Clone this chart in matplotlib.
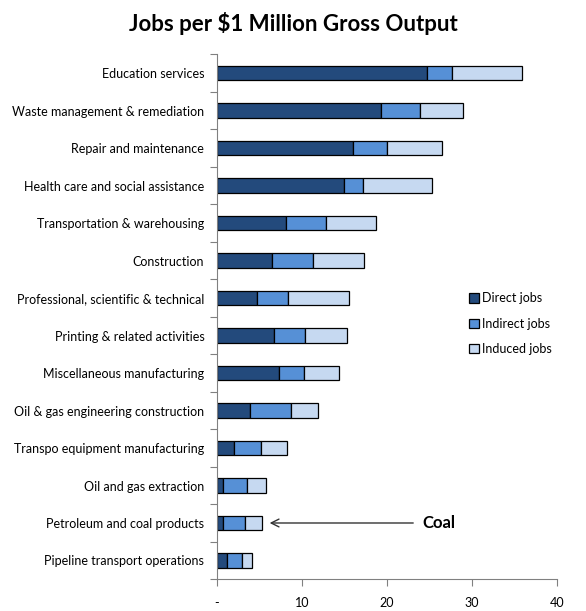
import matplotlib
matplotlib.use("Agg")
import matplotlib.pyplot as plt
import numpy as np

# -------------------------------------------------------
# DATA (jobs per $1M gross output)
# -------------------------------------------------------
industries = [
    "Education services",
    "Waste management & remediation",
    "Repair and maintenance",
    "Health care and social assistance",
    "Transportation & warehousing",
    "Construction",
    "Professional, scientific & technical",
    "Printing & related activities",
    "Miscellaneous manufacturing",
    "Oil & gas engineering construction",
    "Transpo equipment manufacturing",
    "Oil and gas extraction",
    "Petroleum and coal products",
    "Pipeline transport operations",
]
direct_jobs = [24.75, 19.33, 16.04, 14.98, 8.16, 6.51, 4.75, 6.75, 7.33, 3.92, 2.04, 0.75, 0.75, 1.18]
indirect_jobs = [2.90, 4.55, 4.00, 2.20, 4.70, 4.78, 3.60, 3.64, 2.94, 4.83, 3.18, 2.82, 2.54, 1.76]
induced_jobs = [8.15, 5.06, 6.46, 8.11, 5.84, 6.00, 7.22, 4.94, 4.12, 3.17, 3.05, 2.23, 2.04, 1.22]

x_ticks = [0, 10, 20, 30, 40]
x_tick_labels = ["-", "10", "20", "30", "40"]

colors = {"direct": "#234A7C", "indirect": "#5690D6", "induced": "#C6D9F1"}

plt.rcParams["font.family"] = ["Lato", "DejaVu Sans"]

fig = plt.figure(figsize=(5.86, 6.11), dpi=100)
ax = fig.add_axes([0.370, 0.052, 0.581, 0.859])

y = np.arange(len(industries))
direct = np.array(direct_jobs)
indirect = np.array(indirect_jobs)
induced = np.array(induced_jobs)

h = 0.39
ax.barh(y, direct, height=h, color=colors["direct"], edgecolor="black", linewidth=0.9, label="Direct jobs")
ax.barh(y, indirect, left=direct, height=h, color=colors["indirect"], edgecolor="black", linewidth=0.9, label="Indirect jobs")
ax.barh(y, induced, left=direct + indirect, height=h, color=colors["induced"], edgecolor="black", linewidth=0.9, label="Induced jobs")

ax.set_ylim(len(industries) - 0.5, -0.5)
ax.set_xlim(0, 40)

# labels at bar centres, tick marks between categories
ax.set_yticks(y)
ax.set_yticklabels(industries, fontsize=9)
ax.set_yticks(np.arange(len(industries) + 1) - 0.5, minor=True)
ax.tick_params(axis="y", which="major", length=0, pad=9)
ax.tick_params(axis="y", which="minor", length=5, color="#808080", width=0.8)

ax.set_xticks(x_ticks)
ax.set_xticklabels(x_tick_labels, fontsize=9)
ax.tick_params(axis="x", length=5, color="#808080", width=0.8, pad=8)

for side in ["top", "right"]:
    ax.spines[side].set_visible(False)
for side in ["left", "bottom"]:
    ax.spines[side].set_color("#808080")
    ax.spines[side].set_linewidth(0.8)

fig.suptitle("Jobs per $1 Million Gross Output", fontsize=16, fontweight="bold", y=0.98)

leg = ax.legend(loc="upper left", bbox_to_anchor=(0.727, 0.556), frameon=False,
                fontsize=9, handlelength=0.75, handleheight=0.75,
                handletextpad=0.25, labelspacing=1.05, borderaxespad=0)

# Coal annotation
ax.annotate("", xy=(direct[12] + indirect[12] + induced[12] + 0.55, 12),
            xytext=(23.4, 12),
            arrowprops=dict(arrowstyle="->", color="#333333", lw=1.0, mutation_scale=14))
ax.text(24.2, 12, "Coal", fontsize=12, fontweight="bold", va="center", ha="left")

fig.savefig("out.png", dpi=100)
